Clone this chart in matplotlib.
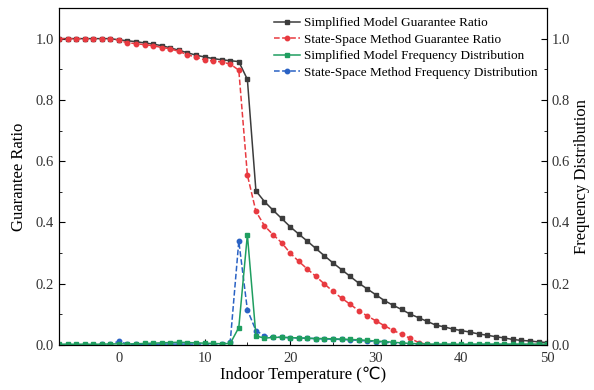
import numpy as np
import matplotlib
matplotlib.use('Agg')
import matplotlib.pyplot as plt
from matplotlib.ticker import MultipleLocator, FormatStrFormatter

plt.rcParams['font.family'] = ['Liberation Serif', 'DejaVu Sans']

# Indoor temperature, 1 degree steps
temp = list(range(-7, 51))

# Guarantee ratio, simplified model (-7 .. 50)
simp_ratio = [1.0, 1.0, 1.0, 1.0, 1.0, 1.0, 1.0,
              0.996, 0.993, 0.990, 0.986, 0.982, 0.977, 0.970, 0.962, 0.954, 0.946,
              0.940, 0.935, 0.931, 0.928, 0.925, 0.867, 0.503, 0.468, 0.440, 0.413,
              0.386, 0.362, 0.339, 0.315, 0.291, 0.268, 0.246, 0.224, 0.202, 0.183,
              0.164, 0.145, 0.130, 0.116, 0.101, 0.089, 0.077, 0.065, 0.059, 0.052,
              0.047, 0.042, 0.036, 0.032, 0.027, 0.023, 0.018, 0.015, 0.013, 0.010,
              0.008]

# Guarantee ratio, state-space method
ss_ratio = [1.0, 1.0, 1.0, 1.0, 1.0, 1.0, 1.0,
            0.995, 0.986, 0.984, 0.980, 0.977, 0.971, 0.967, 0.958, 0.948, 0.939,
            0.931, 0.927, 0.924, 0.917, 0.897, 0.555, 0.436, 0.389, 0.360, 0.334,
            0.300, 0.273, 0.248, 0.224, 0.199, 0.175, 0.153, 0.133, 0.112, 0.095,
            0.079, 0.063, 0.048, 0.035, 0.022, 0.008, 0.002, 0.0, 0.0, 0.0,
            0.0, 0.0, 0.0, 0.0, 0.0, 0.0, 0.0, 0.0, 0.0, 0.0,
            0.0]

# Frequency distribution, simplified model
simp_freq = [0.002, 0.003, 0.002, 0.003, 0.002, 0.003, 0.003,
             0.004, 0.003, 0.004, 0.005, 0.006, 0.007, 0.008, 0.009, 0.008, 0.007,
             0.006, 0.005, 0.004, 0.005, 0.057, 0.360, 0.030, 0.022, 0.025, 0.025,
             0.024, 0.023, 0.022, 0.021, 0.021, 0.020, 0.019, 0.018, 0.017, 0.015,
             0.013, 0.011, 0.009, 0.007, 0.005, 0.004, 0.003, 0.003, 0.003, 0.003,
             0.002, 0.003, 0.003, 0.003, 0.003, 0.003, 0.003, 0.003, 0.003, 0.003,
             0.003]

# Frequency distribution, state-space method
ss_freq = [0.001, 0.001, 0.001, 0.001, 0.001, 0.002, 0.003,
           0.012, 0.003, 0.002, 0.002, 0.002, 0.003, 0.003, 0.003, 0.003, 0.003,
           0.003, 0.003, 0.004, 0.011, 0.339, 0.115, 0.047, 0.030, 0.026, 0.025,
           0.024, 0.023, 0.022, 0.021, 0.020, 0.019, 0.018, 0.017, 0.015, 0.013,
           0.011, 0.009, 0.007, 0.005, 0.003, 0.002, 0.001, 0.001, 0.001, 0.001,
           0.001, 0.001, 0.001, 0.001, 0.001, 0.001, 0.001, 0.001, 0.001, 0.001,
           0.001]

c_black = '#3c3c3c'
c_red = '#e83a40'
c_green = '#1f9e60'
c_blue = '#2a62c4'

fig = plt.figure(figsize=(5.94, 3.90), dpi=100)
ax = fig.add_axes([0.0993, 0.1154, 0.8217, 0.8641])
ax2 = ax.twinx()

ms = 3.2
l1, = ax.plot(temp, simp_ratio, '-', color=c_black, lw=1.1, marker='s', ms=ms,
              label='Simplified Model Guarantee Ratio')
l2, = ax.plot(temp, ss_ratio, '--', color=c_red, lw=1.1, marker='o', ms=ms,
              label='State-Space Method Guarantee Ratio')
l4, = ax2.plot(temp, ss_freq, '--', color=c_blue, lw=1.1, marker='o', ms=ms,
               label='State-Space Method Frequency Distribution')
l3, = ax2.plot(temp, simp_freq, '-', color=c_green, lw=1.1, marker='s', ms=ms,
               label='Simplified Model Frequency Distribution')

for a in (ax, ax2):
    a.set_xlim(-7, 50)
    a.set_ylim(0, 1.1)
    a.yaxis.set_major_locator(MultipleLocator(0.2))
    a.yaxis.set_minor_locator(MultipleLocator(0.1))
    a.yaxis.set_major_formatter(FormatStrFormatter('%.1f'))
    a.tick_params(axis='both', which='both', direction='in', labelsize=10.5,
                  labelcolor='#333333')
    a.tick_params(which='major', length=4)
    a.tick_params(which='minor', length=2.5)

ax.xaxis.set_major_locator(MultipleLocator(10))
ax.xaxis.set_minor_locator(MultipleLocator(5))
ax.tick_params(axis='x', pad=5)

ax.set_xlabel('Indoor Temperature (℃)', fontsize=12, labelpad=1)
ax.set_ylabel('Guarantee Ratio', fontsize=12, labelpad=6)
ax2.set_ylabel('Frequency Distribution', fontsize=12, labelpad=3)

ax.legend(handles=[l1, l2, l3, l4], loc='upper right', frameon=False,
          fontsize=9.5, handlelength=2.0, handletextpad=0.3, labelspacing=0.32,
          borderaxespad=0.3, bbox_to_anchor=(1.0, 1.0))

fig.savefig('out.png', dpi=100)
